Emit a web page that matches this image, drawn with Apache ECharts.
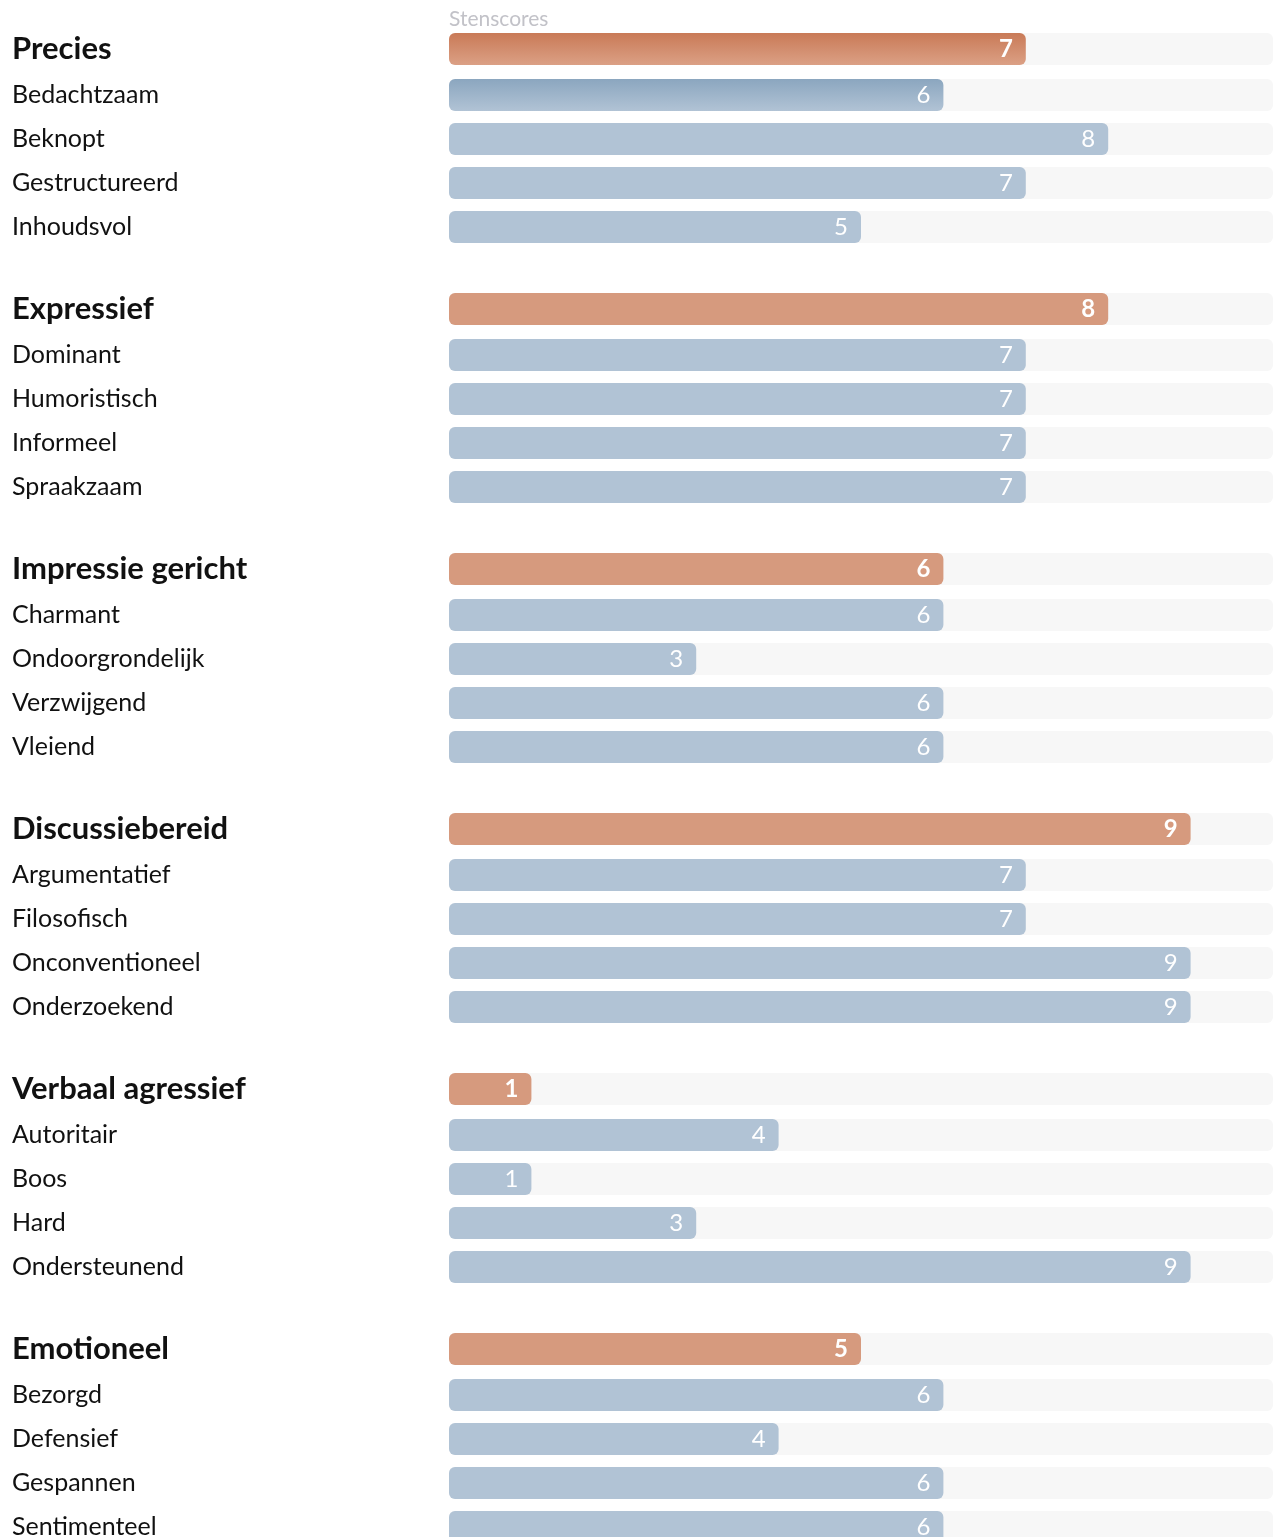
<!DOCTYPE html>
<html>
<head>
<meta charset="utf-8">
<script src="https://cdn.jsdelivr.net/npm/echarts@6/dist/echarts.min.js"></script>
<style>
  html, body { margin: 0; padding: 0; background: #fff; }
  #chart { width: 1282px; height: 1537px; }
</style>
</head>
<body>
<div id="chart"></div>
<script>
const groups = ["Precies", "Expressief", "Impressie gericht", "Discussiebereid", "Verbaal agressief", "Emotioneel"];
const groupScores = [7, 8, 6, 9, 1, 5];
const traits = [
  ["Bedachtzaam", "Beknopt", "Gestructureerd", "Inhoudsvol"],
  ["Dominant", "Humoristisch", "Informeel", "Spraakzaam"],
  ["Charmant", "Ondoorgrondelijk", "Verzwijgend", "Vleiend"],
  ["Argumentatief", "Filosofisch", "Onconventioneel", "Onderzoekend"],
  ["Autoritair", "Boos", "Hard", "Ondersteunend"],
  ["Bezorgd", "Defensief", "Gespannen", "Sentimenteel"]
];
const traitScores = [
  [6, 8, 7, 5],
  [7, 7, 7, 7],
  [6, 3, 6, 6],
  [7, 7, 9, 9],
  [4, 1, 3, 9],
  [6, 4, 6, 6]
];
const maxScore = 10;

const FONT = "Lato, 'Noto Sans', sans-serif";
const ORANGE = "#d69a7e";
const BLUE = "#b1c3d5";

const chart = echarts.init(document.getElementById("chart"));

const grids = [], xAxes = [], yAxes = [], series = [];
const groupStep = 260;
const rowStep = 44;

// one small grid for the group header, one for its four traits
function addBlock(top, rows, cats, data, isHeader) {
  const idx = grids.length;
  grids.push({
    left: 449,
    right: 9,
    top: top,
    height: rowStep * rows,
    outerBoundsMode: "none"
  });
  xAxes.push({
    gridIndex: idx,
    type: "value",
    min: 0,
    max: maxScore,
    show: false
  });
  yAxes.push({
    gridIndex: idx,
    type: "category",
    inverse: true,
    data: cats,
    axisLine: { show: false },
    axisTick: { show: false },
    splitLine: { show: false },
    axisLabel: {
      align: "left",
      margin: 437,
      padding: [2, 0, 0, 0],
      fontFamily: FONT,
      fontSize: isHeader ? 31 : 25,
      fontWeight: isHeader ? "bold" : "normal",
      color: "#111"
    }
  });
  series.push({
    type: "bar",
    xAxisIndex: idx,
    yAxisIndex: idx,
    data: data,
    barWidth: 32,
    showBackground: true,
    backgroundStyle: { color: "#f7f7f7", borderRadius: 6 },
    itemStyle: { color: isHeader ? ORANGE : BLUE, borderRadius: 6 },
    label: {
      show: true,
      position: "insideRight",
      distance: 13,
      color: "#fff",
      fontFamily: FONT,
      fontSize: 24,
      fontWeight: isHeader ? "bold" : "normal"
    },
    emphasis: { disabled: true },
    animation: false
  });
}

groups.forEach((g, gi) => {
  const base = 27 + gi * groupStep;

  const head = [{ value: groupScores[gi] }];
  if (gi === 0) {
    head[0].itemStyle = {
      color: new echarts.graphic.LinearGradient(0, 0, 0, 1, [
        { offset: 0, color: "#c97a57" },
        { offset: 1, color: "#dba085" }
      ])
    };
  }
  addBlock(base, 1, [g], head, true);

  const items = traitScores[gi].map((v, ti) => {
    const item = { value: v };
    if (gi === 0 && ti === 0) {
      item.itemStyle = {
        color: new echarts.graphic.LinearGradient(0, 0, 0, 1, [
          { offset: 0, color: "#8ba6bf" },
          { offset: 1, color: "#b1c3d5" }
        ])
      };
    }
    return item;
  });
  addBlock(base + 46, 4, traits[gi], items, false);
});

chart.setOption({
  animation: false,
  title: {
    text: "Stenscores",
    left: 449,
    top: 9,
    padding: 0,
    textStyle: { fontFamily: FONT, fontSize: 21, fontWeight: "normal", color: "#c2c2c8" }
  },
  grid: grids,
  xAxis: xAxes,
  yAxis: yAxes,
  series: series
});
</script>
</body>
</html>
